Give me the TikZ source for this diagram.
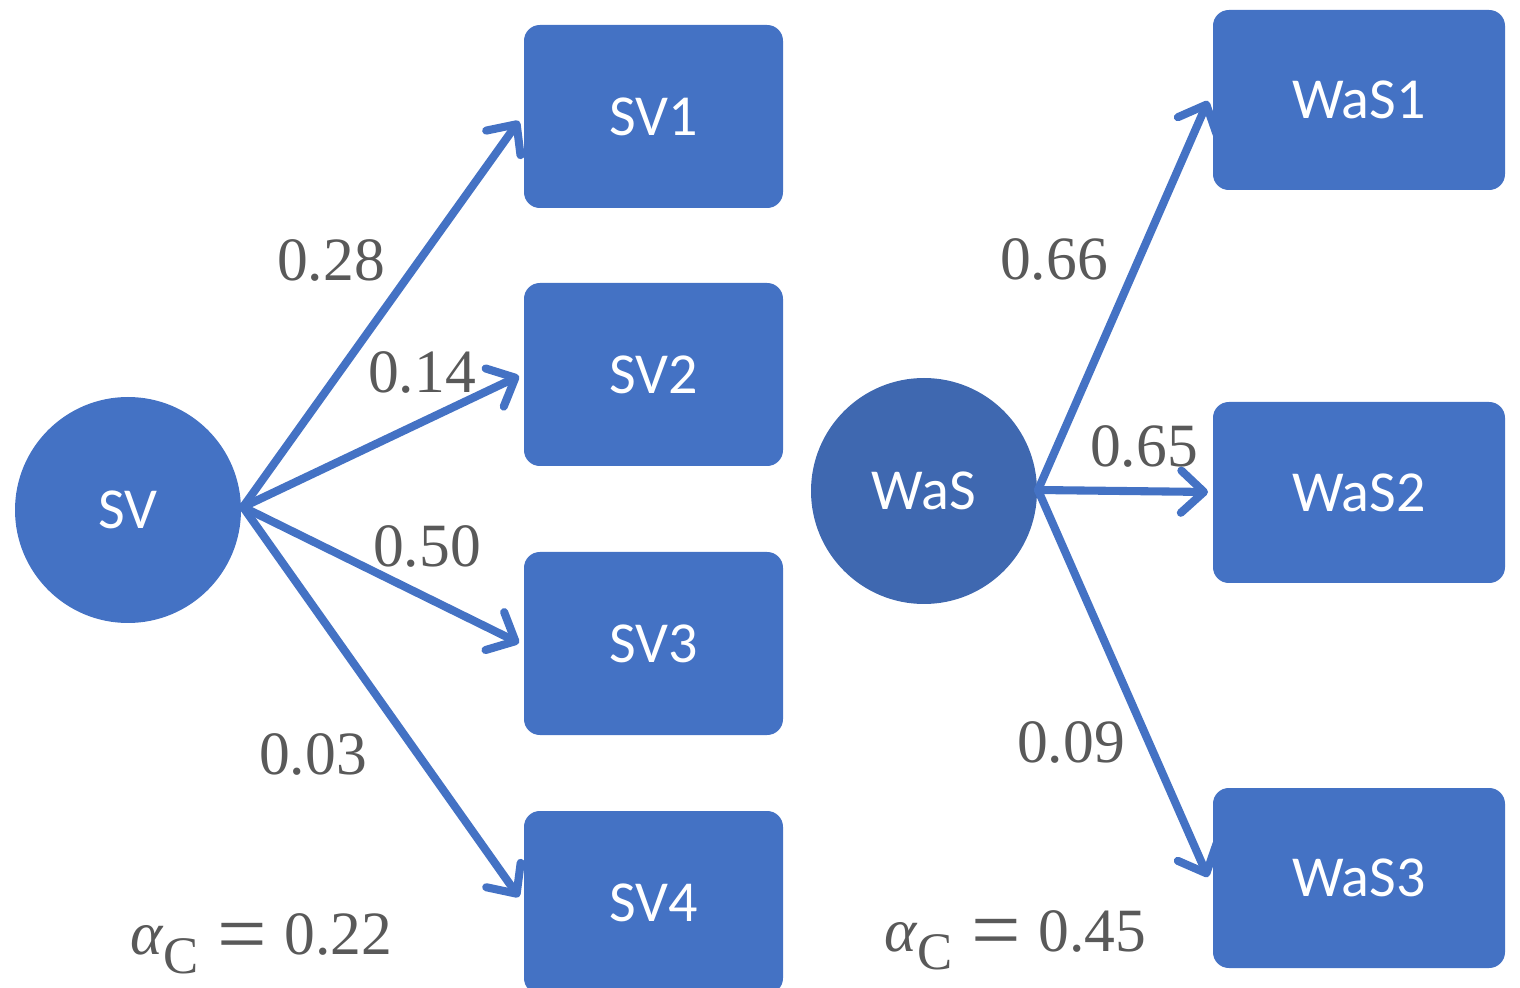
\documentclass[tikz,border=0pt]{standalone}
\usepackage{fontspec}
\setmainfont{Carlito}
\newfontfamily\numfont{Liberation Serif}
\usetikzlibrary{arrows.meta}
\definecolor{boxblue}{HTML}{4472C4}
\definecolor{darkblue}{HTML}{3F68B0}
\definecolor{numgray}{HTML}{595959}
\tikzset{
  vbox/.style={draw=none,fill=boxblue,rounded corners=4.5pt,text=white,font=\fontsize{16.5}{16.5}\selectfont,inner sep=0pt},
  vcirc/.style={circle,fill=boxblue,text=white,font=\fontsize{16.5}{16.5}\selectfont,inner sep=0pt,minimum size=226*0.01cm},
  conn/.style={draw=boxblue,line width=2.3pt,line cap=round,-{Straight Barb[length=6.5pt,width=12pt,line cap=round,line join=round]}},
  num/.style={text=numgray,font=\numfont\fontsize{17.5}{17.5}\selectfont,inner sep=0pt},
}
\newcommand{\bigeq}{\raisebox{-2.4pt}{\fontsize{25}{25}\selectfont =}}
\begin{document}
\begin{tikzpicture}[x=0.01cm,y=-0.01cm]
\useasboundingbox (0,0) rectangle (1520,988);
% nodes
\node[vcirc] (sv) at (128,510) {SV};
\node[vcirc,fill=darkblue] (was) at (924,491) {WaS};
\node[vbox,minimum width=259*0.01cm,minimum height=183*0.01cm] (sv1) at (653.5,116.5) {SV1};
\node[vbox,minimum width=259*0.01cm,minimum height=183*0.01cm] (sv2) at (653.5,374.5) {SV2};
\node[vbox,minimum width=259*0.01cm,minimum height=183*0.01cm] (sv3) at (653.5,643.5) {SV3};
\node[vbox,minimum width=259*0.01cm,minimum height=183*0.01cm] (sv4) at (653.5,902.5) {SV4};
\node[vbox,minimum width=292*0.01cm,minimum height=180*0.01cm] (was1) at (1359,100) {WaS1};
\node[vbox,minimum width=292*0.01cm,minimum height=181*0.01cm] (was2) at (1359,492.5) {WaS2};
\node[vbox,minimum width=292*0.01cm,minimum height=180*0.01cm] (was3) at (1359,878) {WaS3};
% start and end points
\coordinate (s1) at (243,507);
\coordinate (s2) at (1038,490);
\coordinate (t1) at (519,121);
\coordinate (t2) at (519,376);
\coordinate (t3) at (519,643);
\coordinate (t4) at (519,897);
\coordinate (u1) at (1208,101);
\coordinate (u2) at (1208,492);
\coordinate (u3) at (1208,877);
\draw[conn] (s1) -- (t1);
\draw[conn] (s1) -- (t2);
\draw[conn] (s1) -- (t3);
\draw[conn] (s1) -- (t4);
\draw[conn] (s2) -- (u1);
\draw[conn] (s2) -- (u2);
\draw[conn] (s2) -- (u3);
% labels
\node[num] (l1) at (331,260) {0.28};
\node[num] (l2) at (422,372) {0.14};
\node[num] (l3) at (427,546) {0.50};
\node[num] (l4) at (313,754) {0.03};
\node[num] (l5) at (1054,259) {0.66};
\node[num] (l6) at (1144,446) {0.65};
\node[num] (l7) at (1071,742) {0.09};
\node[num,anchor=base west] (a1) at (130,955) {\itshape α\upshape\raisebox{-0.3em}{\fontsize{15}{15}\selectfont C}\hspace{0.32em}\bigeq\hspace{0.28em}0.22};
\node[num,anchor=base west] (a2) at (884,951) {\itshape α\upshape\raisebox{-0.3em}{\fontsize{15}{15}\selectfont C}\hspace{0.32em}\bigeq\hspace{0.28em}0.45};
\end{tikzpicture}
\end{document}
